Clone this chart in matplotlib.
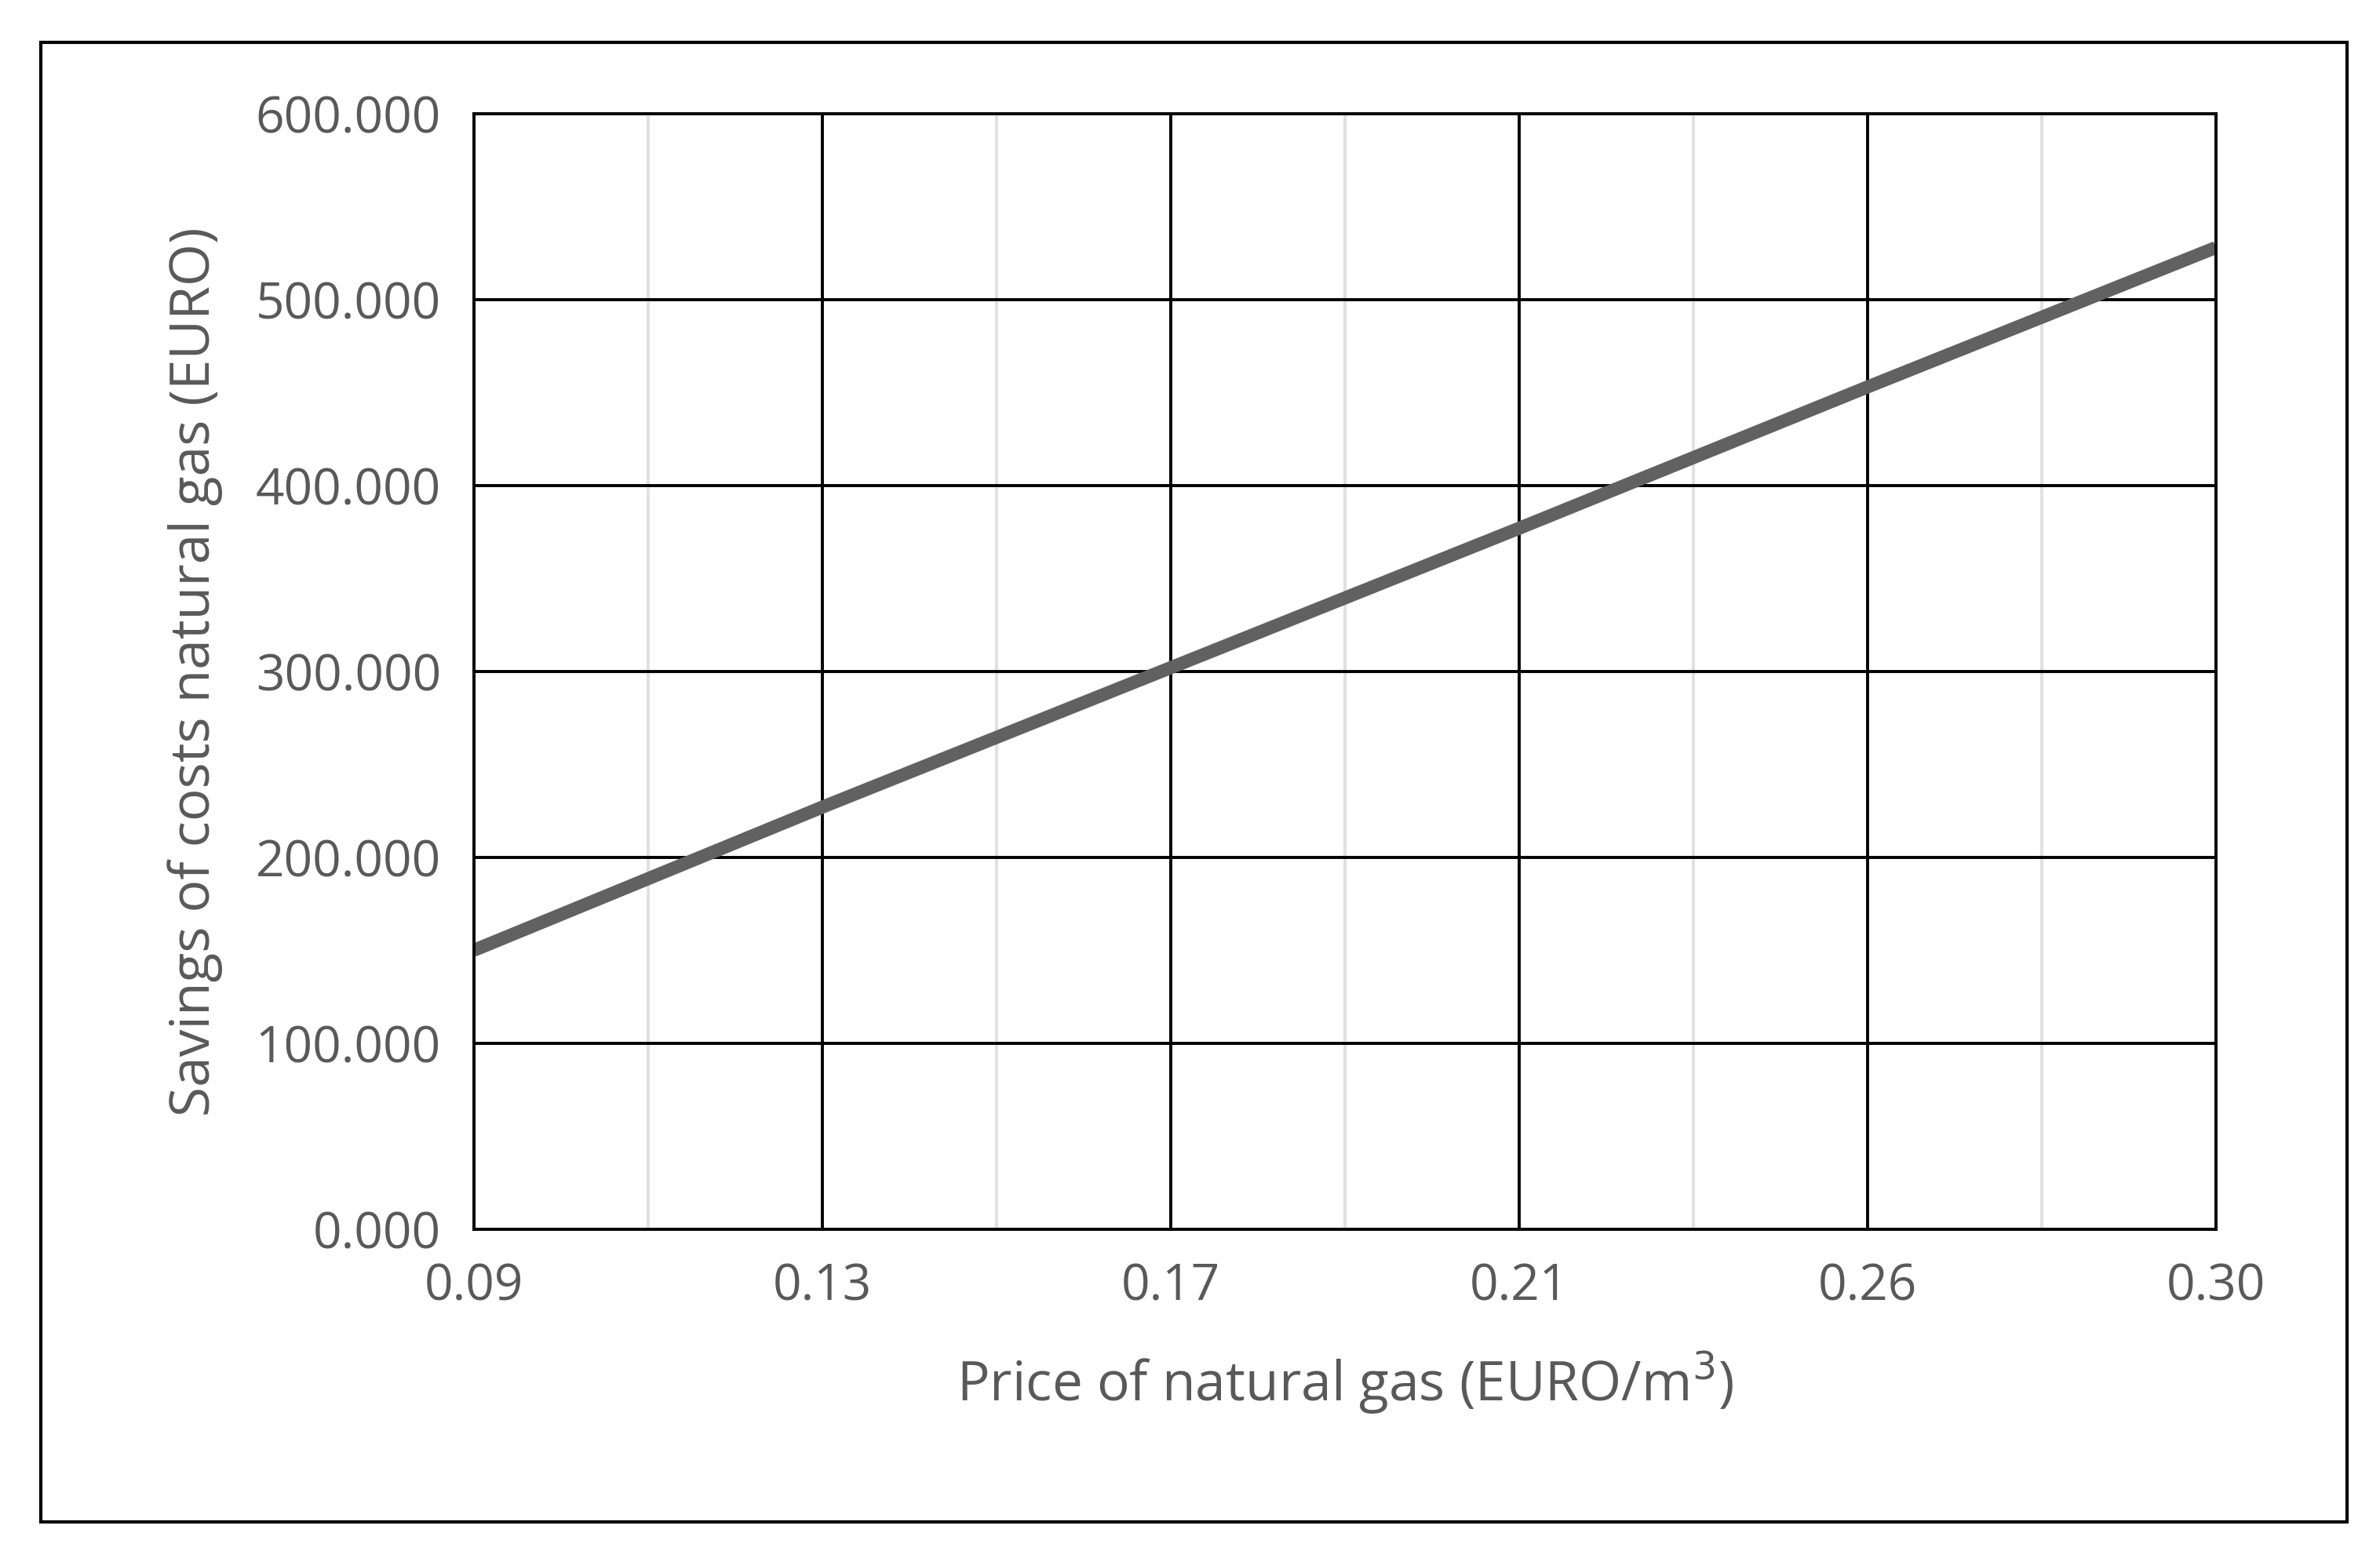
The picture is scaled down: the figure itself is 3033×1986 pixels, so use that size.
import matplotlib.pyplot as plt
from matplotlib.patches import Rectangle

# data
price_labels = ["0.09", "0.13", "0.17", "0.21", "0.26", "0.30"]
savings = [150000, 227000, 302000, 377000, 453000, 528000]

plt.rcParams['font.family'] = ['Open Sans', 'DejaVu Sans']
grey = "#595959"

fig = plt.figure(figsize=(30.33, 19.86), dpi=100)
fig.patches.append(Rectangle((0.017, 0.023), 0.969, 0.950, transform=fig.transFigure,
                             fill=False, edgecolor="black", linewidth=3))
ax = fig.add_axes([0.199, 0.211, 0.732, 0.716])

x = list(range(len(price_labels)))
ax.set_xlim(0, len(price_labels) - 1)
ax.set_ylim(0, 600000)
ax.set_xticks(x)
ax.set_xticklabels(price_labels)
ax.set_xticks([i + 0.5 for i in x[:-1]], minor=True)
ax.set_yticks(range(0, 600001, 100000))
ax.set_yticklabels([f"{v // 1000}.000" for v in range(0, 600001, 100000)])

ax.grid(True, which="major", color="black", linewidth=2.8)
ax.grid(True, which="minor", axis="x", color="#e0e0e0", linewidth=2.8)
ax.set_axisbelow(True)
for s in ax.spines.values():
    s.set_linewidth(2.8)
    s.set_color("black")

ax.plot(x, savings, color="#616161", linewidth=12, solid_capstyle="butt")

ax.tick_params(which="both", length=0, labelsize=46, colors=grey, pad=30)
ax.set_xlabel("Price of natural gas (EURO/m$^3$)", fontsize=50, color=grey, labelpad=35)
ax.set_ylabel("Savings of costs natural gas (EURO)", fontsize=50, color=grey, labelpad=30)

fig.savefig("out.png", dpi=100)
